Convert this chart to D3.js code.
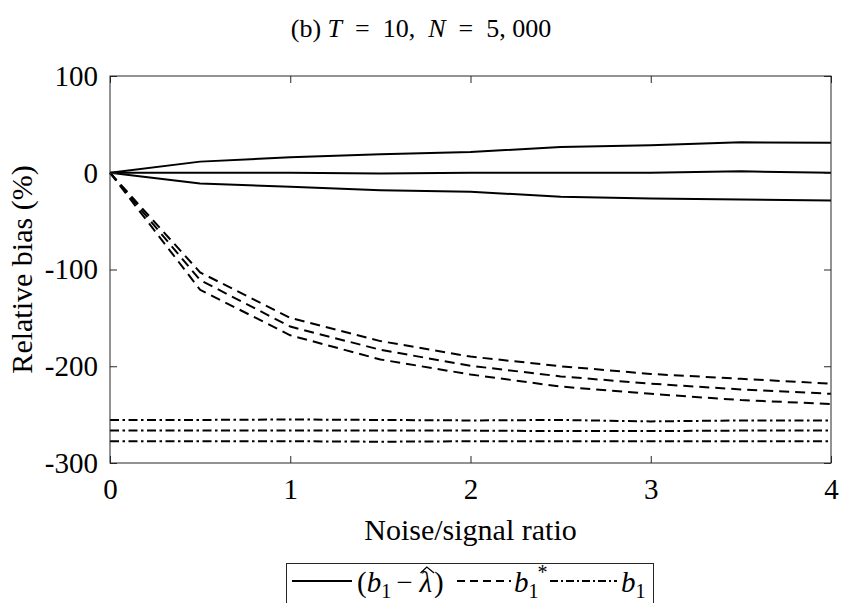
<!DOCTYPE html>
<html>
<head>
<meta charset="utf-8">
<script src="https://cdn.jsdelivr.net/npm/d3@7"></script>
<style>
body { margin: 0; background: #fff; }
svg text { font-family: "Liberation Serif", "Times New Roman", serif; fill: #000; }
</style>
</head>
<body>
<svg id="chart" width="842" height="603"></svg>
<script>
// noise/signal ratio
var xVals = [0, 0.5, 1, 1.5, 2, 2.5, 3, 3.5, 4];

// (b1 - lambda hat), solid
var solidHi  = [0, 11.5, 16, 19, 21.5, 26.5, 28.5, 31.5, 31];
var solidMid = [0, 0, 0, -0.8, 0, 0, 0, 1.5, 0];
var solidLo  = [0, -11, -14.5, -18, -19.6, -24.8, -26.5, -27.6, -28.6];

// b1*, dashed
var starHi  = [0, -103, -150, -174, -190, -200, -208, -213, -218];
var starMid = [0, -111, -159, -183, -199.5, -210.5, -218, -224, -228.5];
var starLo  = [0, -121, -168, -193, -208.5, -221, -228.5, -235, -239];

// b1, dash-dot
var b1Hi  = [-255.5, -255.5, -255, -255.5, -256, -255.5, -257, -256, -256];
var b1Mid = [-266.5, -266.5, -266.5, -266.5, -266.5, -267, -267, -266.5, -266.5];
var b1Lo  = [-277.5, -277.5, -277.5, -278, -277.5, -277.5, -277.5, -277.5, -277.5];

var xTicks = [0, 1, 2, 3, 4];
var yTicks = [100, 0, -100, -200, -300];

var svg = d3.select("#chart");
var margin = {top: 76, left: 110, right: 11, bottom: 140};
var width = 842 - margin.left - margin.right;
var height = 603 - margin.top - margin.bottom;

var x = d3.scaleLinear().domain([0, 4]).range([0, width]);
var y = d3.scaleLinear().domain([-300, 100]).range([height, 0]);

var g = svg.append("g")
	.attr("transform", "translate(" + margin.left + "," + margin.top + ")");

//********** lines **********//
var line = d3.line()
	.x(function(d, i) { return x(xVals[i]); })
	.y(function(d) { return y(d); });

var dashStar = "10,6";
var dashB1 = "9,3.5,2.5,3.5";

var series = [
	{v: solidHi, dash: null}, {v: solidMid, dash: null}, {v: solidLo, dash: null},
	{v: starHi, dash: dashStar}, {v: starMid, dash: dashStar}, {v: starLo, dash: dashStar},
	{v: b1Hi, dash: dashB1}, {v: b1Mid, dash: dashB1}, {v: b1Lo, dash: dashB1}
];

g.selectAll("path.serie")
	.data(series)
	.enter()
	.append("path")
	.attr("class", "serie")
	.attr("d", function(d) { return line(d.v); })
	.attr("fill", "none")
	.attr("stroke", "#000")
	.attr("stroke-width", 2)
	.attr("stroke-dasharray", function(d) { return d.dash; });

//********** axes (box with inner ticks) **********//
var axisColor = "#262626";
var tickLen = 7;
var fuente = "Liberation Serif, Times New Roman, serif";

function estilo(sel) {
	sel.attr("font-family", fuente).attr("font-size", 29);
	sel.select(".domain").remove();
	sel.selectAll(".tick line").attr("stroke", axisColor).attr("stroke-width", 1);
	sel.selectAll(".tick text").attr("fill", "#262626");
}

g.append("g")
	.attr("transform", "translate(0," + height + ")")
	.call(d3.axisBottom(x).tickValues(xTicks).tickFormat(function(d) { return String(d); })
		.tickSizeInner(-tickLen).tickPadding(15))
	.call(estilo);

g.append("g")
	.call(d3.axisTop(x).tickValues(xTicks).tickSizeInner(-tickLen).tickFormat(""))
	.call(estilo);

g.append("g")
	.call(d3.axisLeft(y).tickValues(yTicks).tickFormat(function(d) { return String(d); })
		.tickSizeInner(-tickLen).tickPadding(12))
	.call(estilo);

g.append("g")
	.attr("transform", "translate(" + width + ",0)")
	.call(d3.axisRight(y).tickValues(yTicks).tickSizeInner(-tickLen).tickFormat(""))
	.call(estilo);

g.append("rect")
	.attr("width", width)
	.attr("height", height)
	.attr("fill", "none")
	.attr("stroke", axisColor)
	.attr("stroke-width", 1);

// etiquetas de ejes
svg.append("text")
	.attr("x", margin.left + width / 2)
	.attr("y", 540)
	.attr("text-anchor", "middle")
	.attr("font-family", fuente)
	.attr("font-size", 30)
	.attr("fill", "#262626")
	.text("Noise/signal ratio");

svg.append("text")
	.attr("transform", "translate(32," + (margin.top + height / 2) + ") rotate(-90)")
	.attr("text-anchor", "middle")
	.attr("font-family", fuente)
	.attr("font-size", 30)
	.attr("fill", "#262626")
	.text("Relative bias (%)");

//********** title **********//
var titulo = svg.append("text")
	.attr("x", 421)
	.attr("y", 37)
	.attr("text-anchor", "middle")
	.attr("font-family", fuente)
	.attr("font-size", 26)
	.attr("xml:space", "preserve")
	.style("white-space", "pre");
titulo.append("tspan").text("(b) ");
titulo.append("tspan").style("font-style", "italic").text("T");
titulo.append("tspan").text("  =  10,  ");
titulo.append("tspan").style("font-style", "italic").text("N");
titulo.append("tspan").text("  =  5, 000");

//********** legend **********//
var leg = svg.append("g").attr("font-family", fuente);
var legY = 581;
var base = 592;

leg.append("rect")
	.attr("x", 286.5)
	.attr("y", 563.5)
	.attr("width", 367)
	.attr("height", 60)
	.attr("fill", "#fff")
	.attr("stroke", axisColor)
	.attr("stroke-width", 1);

function sampleLine(x0, x1, dash) {
	leg.append("line")
		.attr("x1", x0).attr("x2", x1)
		.attr("y1", legY).attr("y2", legY)
		.attr("stroke", "#000")
		.attr("stroke-width", 2)
		.attr("stroke-dasharray", dash);
}

// (b1 - lambda hat)
sampleLine(292, 352, null);
var t1 = leg.append("text").attr("x", 357).attr("y", base).attr("font-size", 29);
t1.append("tspan").text("(");
t1.append("tspan").style("font-style", "italic").text("b");
t1.append("tspan").attr("dy", 6).attr("font-size", 20).text("1");
t1.append("tspan").attr("dy", -6).attr("dx", 5).text("\u2212");
var lam = t1.append("tspan").attr("dx", 7).style("font-style", "italic").text("\u03bb");
t1.append("tspan").attr("dx", 2).text(")");

// sombrero sobre lambda
var nodo = t1.node();
var ext = nodo.getExtentOfChar(nodo.textContent.indexOf("\u03bb"));
leg.append("path")
	.attr("d", "M" + (ext.x + 1) + "," + (ext.y + 7) +
		" L" + (ext.x + ext.width / 2 + 1) + "," + (ext.y + 1) +
		" L" + (ext.x + ext.width + 2) + "," + (ext.y + 7))
	.attr("fill", "none")
	.attr("stroke", "#000")
	.attr("stroke-width", 1.3);

// b1*
sampleLine(457, 511, "8,5");
var t2 = leg.append("text").attr("x", 514).attr("y", base).attr("font-size", 29);
t2.append("tspan").style("font-style", "italic").text("b");
t2.append("tspan").attr("dy", 6).attr("font-size", 20).text("1");
t2.append("tspan").attr("dx", -1).attr("dy", -19).attr("font-size", 20).text("*");

// b1
sampleLine(550, 617, "8,3,2,3");
var t3 = leg.append("text").attr("x", 621).attr("y", base).attr("font-size", 29);
t3.append("tspan").style("font-style", "italic").text("b");
t3.append("tspan").attr("dy", 6).attr("font-size", 20).text("1");
</script>
</body>
</html>
